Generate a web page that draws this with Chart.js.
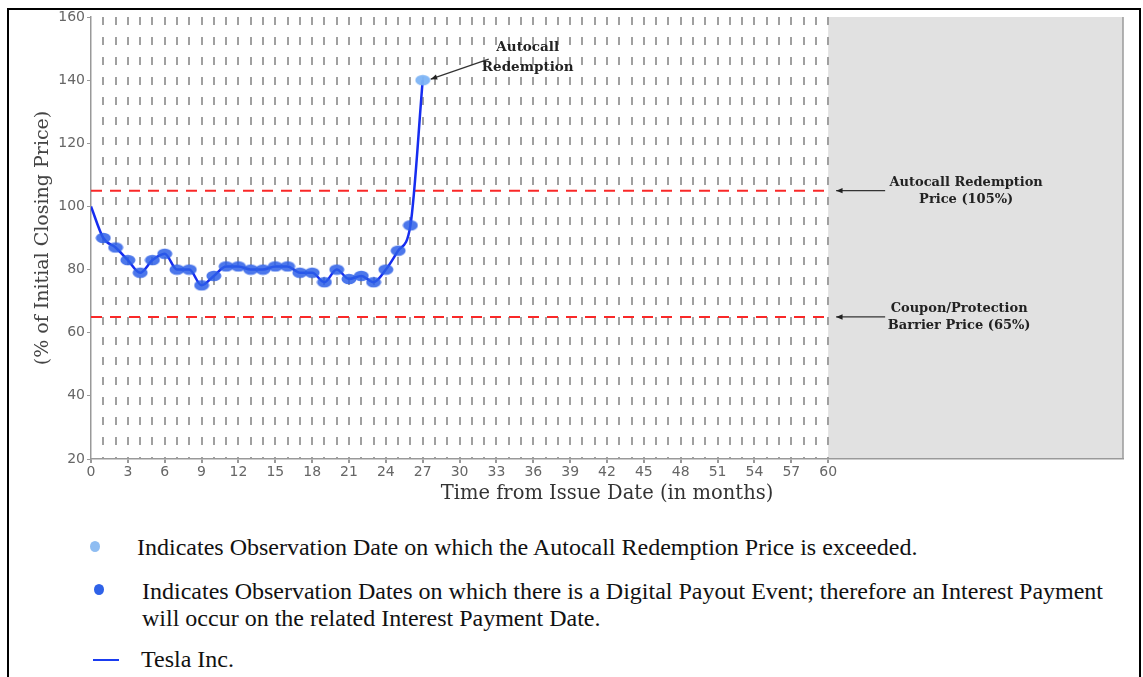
<!DOCTYPE html>
<html>
<head>
  <meta charset="utf-8">
  <title>Tesla Inc. autocall</title>
  <script src="https://cdn.jsdelivr.net/npm/chart.js"></script>
  <style>
    body { margin: 0; background: #fff; }
    #frame { position: absolute; left: 7px; top: 8px; width: 1130px; height: 700px;
             border: 2px solid #000; border-bottom: none; }
    #wrap { position: absolute; left: 0; top: 0; width: 1143px; height: 520px; }
    .leg { position: absolute; font-family: "Liberation Serif", serif; font-size: 24px;
           line-height: 27px; color: #111; white-space: nowrap; }
    .dot { position: absolute; border-radius: 50%; }
  </style>
</head>
<body>
  <div id="frame"></div>
  <div id="wrap"><canvas id="myChart" width="1143" height="520"></canvas></div>

  <div class="dot" style="left:90px; top:541px; width:10px; height:11px; background:#8fbdf2;"></div>
  <div class="leg" style="left:137px; top:534px;">Indicates Observation Date on which the Autocall Redemption Price is exceeded.</div>

  <div class="dot" style="left:94px; top:584px; width:10px; height:11px; background:#2f62e8;"></div>
  <div class="leg" style="left:142px; top:578px;">Indicates Observation Dates on which there is a Digital Payout Event; therefore an Interest Payment<br>will occur on the related Interest Payment Date.</div>

  <div style="position:absolute; left:93px; top:659px; width:26px; height:2px; background:#1a3cf0;"></div>
  <div class="leg" style="left:141px; top:646px;">Tesla Inc.</div>

  <script>
    // months since issue date and closing level (% of initial)
    const months = [0, 1, 2, 3, 4, 5, 6, 7, 8, 9, 10, 11, 12, 13, 14, 15, 16, 17, 18, 19, 20, 21, 22, 23, 24, 25, 26, 27]
    const tesla = [100, 90, 87, 83, 79, 83, 85, 80, 80, 75, 78, 81, 81, 80, 80, 81, 81, 79, 79, 76, 80, 77, 78, 76, 80, 86, 94, 140]
    const payoutMonths = months.slice(1, 27)
    const autocallMonth = [27]
    const autocallLevel = 105
    const barrierLevel = 65
    const termMonths = 60
    const axisMaxMonths = 84
    const yTicks = [20, 40, 60, 80, 100, 120, 140, 160]

    function ellipse(color) {
      const c = document.createElement('canvas')
      c.width = 16; c.height = 12
      const g = c.getContext('2d')
      g.fillStyle = color
      g.beginPath()
      g.ellipse(8, 6, 7.5, 5.2, 0, 0, Math.PI * 2)
      g.fill()
      return c
    }

    const pts = months.map((m, i) => ({ x: m, y: tesla[i] }))
    const payoutPts = payoutMonths.map(m => ({ x: m, y: tesla[months.indexOf(m)] }))
    const autocallPts = autocallMonth.map(m => ({ x: m, y: tesla[months.indexOf(m)] }))

    const bgPlugin = {
      id: 'bg',
      beforeDraw(chart) {
        const { ctx, chartArea: a, scales: { x } } = chart
        const x60 = x.getPixelForValue(termMonths)
        ctx.save()
        ctx.fillStyle = '#e1e1e1'
        ctx.fillRect(x60, a.top, a.right - x60, a.bottom - a.top)
        ctx.strokeStyle = '#9a9a9a'
        ctx.lineWidth = 1.5
        ctx.beginPath()
        ctx.moveTo(a.right, a.top)
        ctx.lineTo(a.right, a.bottom)
        ctx.stroke()
        ctx.restore()
      }
    }

    function arrow(ctx, x1, y1, x2, y2) {
      ctx.beginPath()
      ctx.moveTo(x1, y1)
      ctx.lineTo(x2, y2)
      ctx.stroke()
      const ang = Math.atan2(y2 - y1, x2 - x1)
      ctx.beginPath()
      ctx.moveTo(x2, y2)
      ctx.lineTo(x2 - 7 * Math.cos(ang - 0.4), y2 - 7 * Math.sin(ang - 0.4))
      ctx.lineTo(x2 - 7 * Math.cos(ang + 0.4), y2 - 7 * Math.sin(ang + 0.4))
      ctx.closePath()
      ctx.fill()
    }

    const notePlugin = {
      id: 'notes',
      afterDraw(chart) {
        const { ctx, scales: { x, y } } = chart
        ctx.save()
        ctx.strokeStyle = '#333'
        ctx.fillStyle = '#222'
        ctx.lineWidth = 1.2
        ctx.font = 'bold 13.5px "DejaVu Serif"'
        ctx.textAlign = 'center'
        ctx.textBaseline = 'middle'

        const px = x.getPixelForValue(autocallMonth[0])
        const py = y.getPixelForValue(tesla[months.indexOf(autocallMonth[0])])
        arrow(ctx, px + 66, py - 21, px + 8, py - 1)
        ctx.fillText('Autocall', px + 105, py - 33)
        ctx.fillText('Redemption', px + 105, py - 13)

        ctx.font = 'bold 13px "DejaVu Serif"'
        const x60 = x.getPixelForValue(termMonths)
        const yA = y.getPixelForValue(autocallLevel)
        arrow(ctx, x60 + 57, yA, x60 + 8, yA)
        ctx.fillText('Autocall Redemption', x60 + 138, yA - 8)
        ctx.fillText('Price (105%)', x60 + 138, yA + 9)

        const yB = y.getPixelForValue(barrierLevel)
        arrow(ctx, x60 + 57, yB, x60 + 8, yB)
        ctx.fillText('Coupon/Protection', x60 + 131, yB - 8)
        ctx.fillText('Barrier Price (65%)', x60 + 131, yB + 9)
        ctx.restore()
      }
    }

    const ctx = document.getElementById('myChart').getContext('2d')

    const myChart = new Chart(ctx, {
      type: 'line',
      data: {
        datasets: [
          {
            label: 'Autocall point',
            data: autocallPts,
            showLine: false,
            pointStyle: ellipse('rgba(125,180,245,0.95)'),
            pointRadius: 7,
            order: 1
          },
          {
            label: 'Digital payout',
            data: payoutPts,
            showLine: false,
            pointStyle: ellipse('rgba(45,95,232,0.85)'),
            pointRadius: 7,
            order: 2
          },
          {
            label: 'Tesla Inc.',
            data: pts,
            borderColor: 'rgb(22,45,240)',
            borderWidth: 2.5,
            pointRadius: 0,
            cubicInterpolationMode: 'monotone',
            fill: false,
            order: 3
          },
          {
            label: 'Autocall Redemption Price',
            data: [{ x: 0, y: autocallLevel }, { x: termMonths, y: autocallLevel }],
            borderColor: 'rgb(250,40,40)',
            borderWidth: 2,
            borderDash: [11, 8],
            pointRadius: 0,
            order: 4
          },
          {
            label: 'Barrier Price',
            data: [{ x: 0, y: barrierLevel }, { x: termMonths, y: barrierLevel }],
            borderColor: 'rgb(250,40,40)',
            borderWidth: 2,
            borderDash: [11, 8],
            pointRadius: 0,
            order: 5
          }
        ]
      },
      options: {
        responsive: false,
        animation: false,
        events: [],
        layout: { padding: { top: 17, right: 20, bottom: 0, left: 0 } },
        plugins: { legend: { display: false }, tooltip: { enabled: false } },
        scales: {
          x: {
            type: 'linear',
            min: 0,
            max: axisMaxMonths,
            afterFit: s => { s.height = 61 },
            ticks: {
              stepSize: 1,
              autoSkip: false,
              maxRotation: 0,
              padding: 1,
              color: '#666',
              font: { family: 'DejaVu Sans', size: 14 },
              callback: v => (v % 3 === 0 && v <= termMonths) ? v : ''
            },
            grid: {
              color: c => (c.tick && c.tick.value >= 1 && c.tick.value <= termMonths) ? '#a0a0a0' : 'rgba(0,0,0,0)',
              tickColor: c => (c.tick && c.tick.value % 3 === 0 && c.tick.value <= termMonths) ? '#999' : 'rgba(0,0,0,0)',
              lineWidth: 2,
              tickLength: 4
            },
            border: { color: '#999', width: 1.5, dash: [8, 12] },
            title: {
              display: true,
              text: 'Time from Issue Date (in months)',
              color: '#333',
              font: { family: 'DejaVu Serif', size: 19.5 },
              padding: { top: 0, bottom: 14 }
            }
          },
          y: {
            min: 20,
            max: 160,
            afterFit: s => { s.width = 91 },
            afterBuildTicks: s => { s.ticks = yTicks.map(v => ({ value: v })) },
            ticks: {
              padding: 2,
              color: '#666',
              font: { family: 'DejaVu Sans', size: 14 }
            },
            grid: {
              drawOnChartArea: false,
              tickColor: '#999',
              tickLength: 4
            },
            border: { color: '#999', width: 1.5 },
            title: {
              display: true,
              text: '(% of Initial Closing Price)',
              color: '#444',
              font: { family: 'DejaVu Serif', size: 19 },
              padding: { top: 32, bottom: 0 }
            }
          }
        }
      },
      plugins: [bgPlugin, notePlugin]
    })
  </script>
</body>
</html>
